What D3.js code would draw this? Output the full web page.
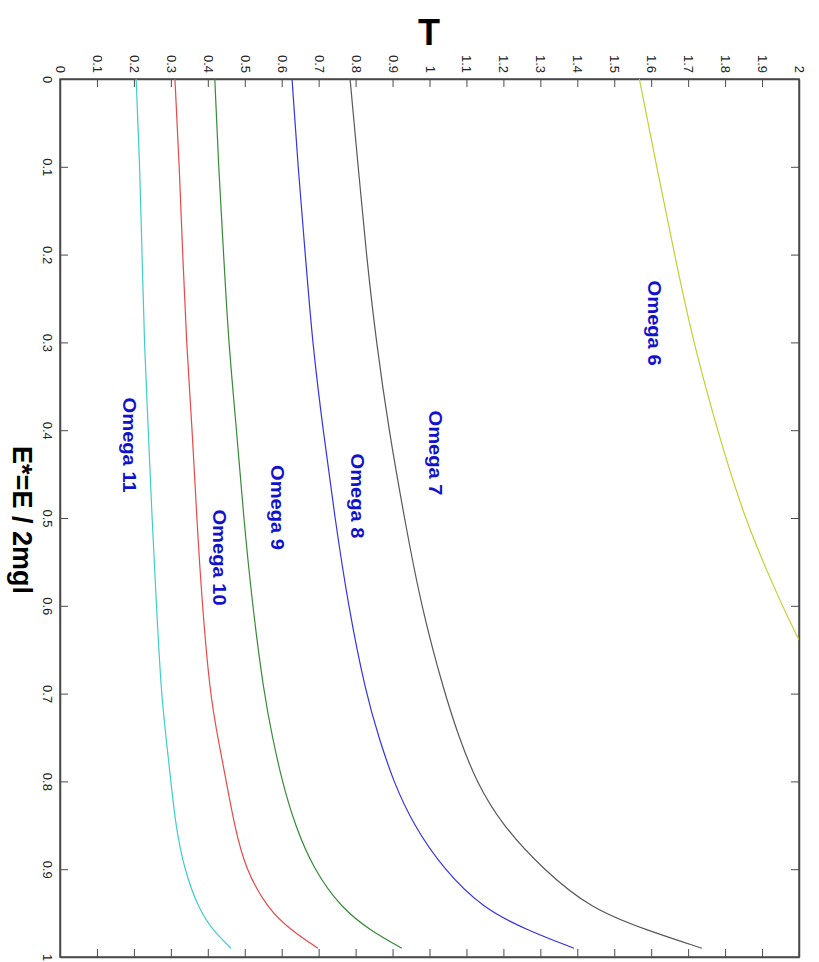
<!DOCTYPE html>
<html>
<head>
<meta charset="utf-8">
<script src="https://cdn.jsdelivr.net/npm/d3@7"></script>
<style>
  body { margin: 0; background: #fff; }
  svg text { font-family: "Liberation Sans", Arial, sans-serif; }
</style>
</head>
<body>
<div id="chart"></div>
<script>
/**
 * DATA
 * */
// E* samples shared by omega 7..11
const eValues = [0, 0.1, 0.2, 0.3, 0.4, 0.5, 0.6, 0.7, 0.75, 0.8, 0.85, 0.9, 0.945, 0.97, 0.99];
const omega7 = [0.785, 0.807, 0.829, 0.856, 0.890, 0.932, 0.977, 1.041, 1.080, 1.126, 1.197, 1.307, 1.436, 1.591, 1.737];
const omega8 = [0.628, 0.644, 0.664, 0.683, 0.712, 0.744, 0.780, 0.828, 0.863, 0.902, 0.957, 1.038, 1.145, 1.268, 1.391];
const omega9 = [0.419, 0.429, 0.443, 0.456, 0.478, 0.497, 0.521, 0.552, 0.575, 0.601, 0.636, 0.686, 0.763, 0.841, 0.925];
const omega10 = [0.311, 0.323, 0.332, 0.342, 0.358, 0.370, 0.385, 0.406, 0.427, 0.450, 0.472, 0.502, 0.562, 0.627, 0.698];
const omega11 = [0.206, 0.216, 0.222, 0.228, 0.239, 0.249, 0.261, 0.274, 0.287, 0.300, 0.313, 0.336, 0.375, 0.414, 0.463];
// omega 6 leaves the plot at T = 2
const eValues6 = [0, 0.1, 0.2, 0.3, 0.4, 0.5, 0.6, 0.639];
const omega6 = [1.568, 1.615, 1.663, 1.714, 1.779, 1.851, 1.954, 2.0];

const tTicks = d3.range(0, 21).map(i => i / 10);
const eTicks = d3.range(0, 11).map(i => i / 10);

// label anchors in data units (T, E*)
const labelNames = ["Omega 6", "Omega 7", "Omega 8", "Omega 9", "Omega 10", "Omega 11"];
const labelT = [1.608, 1.015, 0.804, 0.587, 0.43, 0.187];
const labelE = [0.278, 0.426, 0.475, 0.488, 0.545, 0.417];

/**
 * CONSTANTS
 * */
const width = 819, height = 962;
const plot = { left: 60, right: 799, top: 79, bottom: 957 };
const axisColor = "#4a4a4a";
const fontFamily = "'Liberation Sans', Arial, sans-serif";

const series = [
  { name: "Omega 6", e: eValues6, t: omega6, color: "#c3cf32" },
  { name: "Omega 7", e: eValues, t: omega7, color: "#585858" },
  { name: "Omega 8", e: eValues, t: omega8, color: "#3434e6" },
  { name: "Omega 9", e: eValues, t: omega9, color: "#378a37" },
  { name: "Omega 10", e: eValues, t: omega10, color: "#e84848" },
  { name: "Omega 11", e: eValues, t: omega11, color: "#40cccc" }
];

const svg = d3.select("#chart").append("svg")
  .attr("width", width)
  .attr("height", height)
  .style("font-family", fontFamily);

// chart is drawn turned a quarter clockwise: T runs left->right, E* top->bottom
const x = d3.scaleLinear().domain([0, 2]).range([plot.left, plot.right]);
const y = d3.scaleLinear().domain([0, 1]).range([plot.top, plot.bottom]);

const fmt = d => String(+d.toFixed(1));

// top axis (T) with rotated labels
const topAxis = svg.append("g")
  .attr("transform", `translate(0,${plot.top})`)
  .call(d3.axisTop(x).tickValues(tTicks).tickSizeInner(-8).tickSizeOuter(0).tickFormat(fmt));
topAxis.selectAll("text")
  .attr("x", 0).attr("y", 0).attr("dy", null)
  .attr("transform", "translate(0,-6) rotate(90)")
  .attr("text-anchor", "end")
  .attr("dominant-baseline", "central");

// left axis (E*) with rotated labels
const leftAxis = svg.append("g")
  .attr("transform", `translate(${plot.left},0)`)
  .call(d3.axisLeft(y).tickValues(eTicks).tickSizeInner(-8).tickSizeOuter(0).tickFormat(fmt));
leftAxis.selectAll("text")
  .attr("x", 0).attr("y", 0).attr("dy", null)
  .attr("transform", "translate(-13,0) rotate(90)")
  .attr("text-anchor", "middle")
  .attr("dominant-baseline", "central");

// mirror ticks on the other two sides
svg.append("g")
  .attr("transform", `translate(0,${plot.bottom})`)
  .call(d3.axisBottom(x).tickValues(tTicks).tickSizeInner(-8).tickSizeOuter(0).tickFormat(""));
svg.append("g")
  .attr("transform", `translate(${plot.right},0)`)
  .call(d3.axisRight(y).tickValues(eTicks).tickSizeInner(-8).tickSizeOuter(0).tickFormat(""));

svg.selectAll("g").attr("font-family", fontFamily);
svg.selectAll(".tick line").attr("stroke", axisColor);
svg.selectAll(".domain").attr("stroke", axisColor).attr("stroke-width", 1.5);
svg.selectAll(".tick text")
  .style("font-size", "13px")
  .style("font-family", fontFamily)
  .attr("fill", "#222");

// box
svg.append("rect")
  .attr("x", plot.left).attr("y", plot.top)
  .attr("width", plot.right - plot.left).attr("height", plot.bottom - plot.top)
  .attr("fill", "none").attr("stroke", axisColor).attr("stroke-width", 1.5);

// clip for curves
svg.append("clipPath").attr("id", "clip")
  .append("rect")
  .attr("x", plot.left).attr("y", plot.top)
  .attr("width", plot.right - plot.left).attr("height", plot.bottom - plot.top);

const line = d3.line()
  .x(d => x(d[1]))
  .y(d => y(d[0]))
  .curve(d3.curveBasis);

svg.append("g").attr("clip-path", "url(#clip)")
  .selectAll("path")
  .data(series)
  .join("path")
  .attr("d", s => line(s.e.map((e, i) => [e, s.t[i]])))
  .attr("fill", "none")
  .attr("stroke", s => s.color)
  .attr("stroke-width", 1.2);

// curve labels
svg.append("g")
  .selectAll("text")
  .data(labelNames)
  .join("text")
  .attr("transform", (d, i) => `translate(${x(labelT[i])},${y(labelE[i])}) rotate(90) scale(1.15,1)`)
  .attr("text-anchor", "middle")
  .attr("dominant-baseline", "central")
  .style("font-size", "17.5px")
  .style("font-weight", "bold")
  .attr("fill", "#1212cc")
  .text(d => d);

// axis titles
svg.append("text")
  .attr("x", 429).attr("y", 45)
  .attr("text-anchor", "middle")
  .style("font-size", "36px")
  .style("font-weight", "bold")
  .attr("fill", "#000")
  .text("T");

svg.append("text")
  .attr("transform", "translate(22,520) rotate(90)")
  .attr("text-anchor", "middle")
  .attr("dominant-baseline", "central")
  .style("font-size", "27px")
  .style("font-weight", "bold")
  .attr("fill", "#000")
  .text("E*=E / 2mgl");
</script>
</body>
</html>
